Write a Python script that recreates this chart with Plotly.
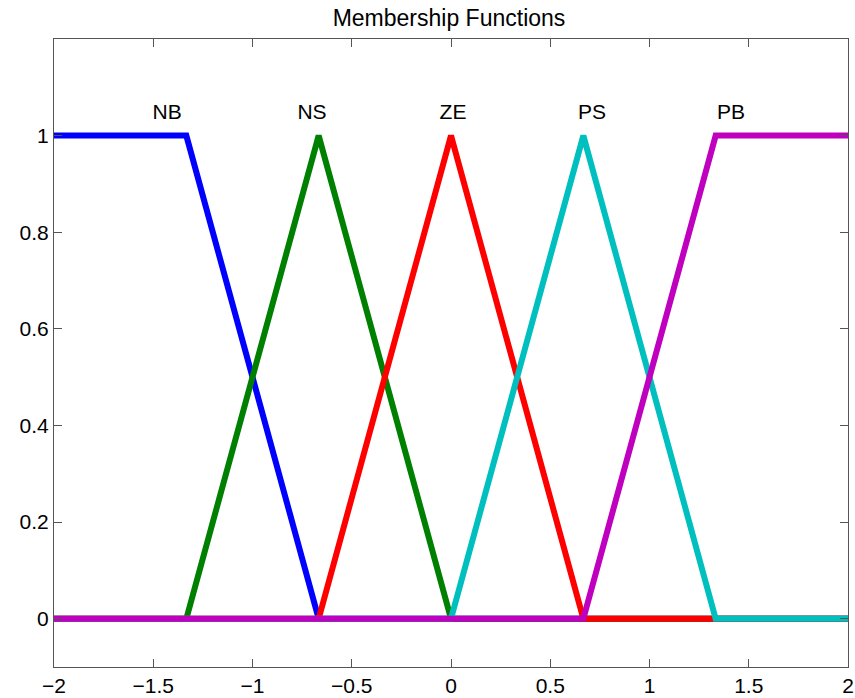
import plotly.graph_objects as go

# Membership function definitions (x breakpoints, membership values)
names = ["NB", "NS", "ZE", "PS", "PB"]
colors = ["#0000FF", "#008000", "#FF0000", "#00BFBF", "#BF00BF"]
xs = [
    [-2, -1.3333, -0.6667, 2],
    [-2, -1.3333, -0.6667, 0, 2],
    [-2, -0.6667, 0, 0.6667, 2],
    [-2, 0, 0.6667, 1.3333, 2],
    [-2, 0.6667, 1.3333, 2],
]
ys = [
    [1, 1, 0, 0],
    [0, 0, 1, 0, 0],
    [0, 0, 1, 0, 0],
    [0, 0, 1, 0, 0],
    [0, 0, 1, 1],
]
label_x = [-1.43, -0.70, 0.01, 0.71, 1.41]
label_y = [1.045, 1.045, 1.045, 1.045, 1.045]
xtick_vals = [-2, -1.5, -1, -0.5, 0, 0.5, 1, 1.5, 2]
ytick_vals = [0, 0.2, 0.4, 0.6, 0.8, 1]
ytick_text = ["0", "0.2", "0.4", "0.6", "0.8", "1"]

FONT = "Liberation Sans, Arial"

fig = go.Figure()
for n, c, x, y in zip(names, colors, xs, ys):
    fig.add_trace(go.Scatter(x=x, y=y, mode="lines", name=n,
                             line=dict(color=c, width=6), showlegend=False))

fig.add_trace(go.Scatter(x=label_x, y=label_y, mode="text", text=names,
                         textposition="middle center",
                         textfont=dict(size=21, color="black", family=FONT),
                         showlegend=False, hoverinfo="skip"))

axis_common = dict(showline=True, linecolor="#555555", linewidth=1, mirror="ticks",
                   ticks="inside", ticklen=8, tickcolor="#555555",
                   showgrid=False, zeroline=False, automargin=False,
                   tickfont=dict(size=21, color="black", family=FONT))

fig.update_layout(
    width=855, height=698,
    margin=dict(l=54, r=7, t=39, b=31),
    paper_bgcolor="white", plot_bgcolor="white",
    title=dict(text="Membership Functions", x=(333 + 565) / 2 / 855, xanchor="center",
               y=1 - 18 / 698, yanchor="middle",
               font=dict(size=23, color="black", family=FONT)),
    xaxis=dict(range=[-2, 2], tickvals=xtick_vals, **axis_common),
    yaxis=dict(range=[-0.1, 1.2], tickvals=ytick_vals, ticktext=ytick_text, **axis_common),
)

fig.write_html("out.html")
